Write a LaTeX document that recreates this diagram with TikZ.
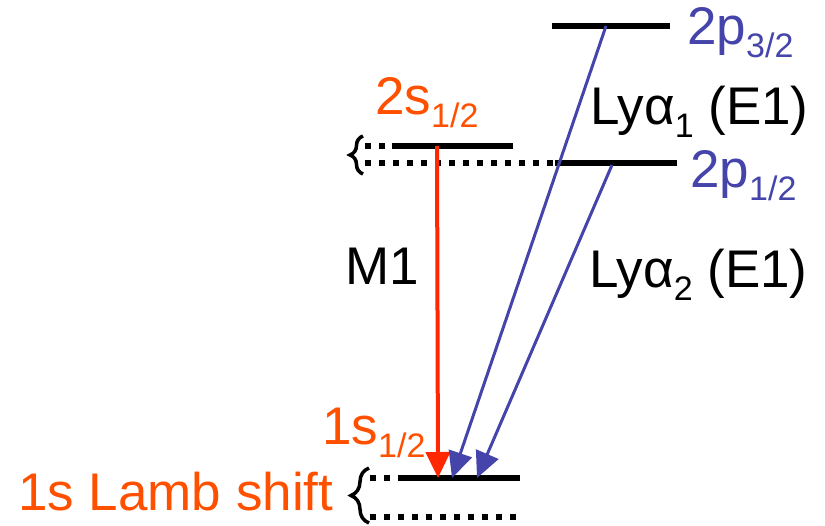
\documentclass[tikz,border=0pt]{standalone}
\usepackage{fontspec}
\setmainfont{Liberation Sans}
\usetikzlibrary{arrows.meta,decorations.pathreplacing}

\definecolor{lblorange}{RGB}{255,80,0}
\definecolor{arrowred}{RGB}{255,40,0}
\definecolor{pblue}{RGB}{68,68,170}

\newcommand{\lvsub}[1]{\raisebox{-13pt}{\fontsize{34}{34}\selectfont #1}}

\begin{document}
\begin{tikzpicture}[
    x=1pt, y=-1pt,
    every node/.style={font=\fontsize{53}{64}\selectfont, inner sep=0pt, anchor=base west},
    level/.style={line width=6.5pt},
    sublevel/.style={line width=6.5pt, dash pattern=on 6pt off 8pt},
    brc/.style={line width=3.5pt, decorate},
    trans/.style={-{Triangle[length=26pt,width=24pt]}}
]
\useasboundingbox (0,0) rectangle (825,526);

% === Levels ===
\draw[level] (552,26) -- (670,26);                % 2p 3/2
\draw[level] (392,146) -- (513,146);              % 2s 1/2
\draw[sublevel] (365,146) -- (392,146);
\draw[sublevel] (365,163) -- (555,163);
\draw[level] (555,163) -- (677,163);              % 2p 1/2
\draw[level] (398,478) -- (520,478);              % 1s 1/2
\draw[sublevel] (370,478) -- (398,478);
\draw[sublevel] (370,517) -- (522,517);

% Braces
\draw[brc, decoration={brace, amplitude=13pt}] (363,174) -- (363,136);
\draw[brc, decoration={brace, amplitude=18pt}] (369,523) -- (369,468);

% === Transition end points ===
\coordinate (s2) at (437,146);
\coordinate (s1a) at (438,478);
\coordinate (p3) at (606,26);
\coordinate (s1b) at (452,478);
\coordinate (p1) at (612,165);
\coordinate (s1c) at (477,478);

% === Transitions ===
\draw[trans, arrowred, line width=4pt] (s2) -- (s1a);
\draw[trans, pblue, line width=3pt] (p3) -- (s1b);
\draw[trans, pblue, line width=3pt] (p1) -- (s1c);

% === Labels ===
\node[text=pblue] (lp3) at (687,45) {2p\lvsub{3/2}};
\node[text=pblue] (lp1) at (690,188) {2p\lvsub{1/2}};
\node[text=lblorange] (ls2) at (375,115) {2s\lvsub{1/2}};
\node[text=lblorange] (ls1) at (322,445) {1s\lvsub{1/2}};
\node[text=lblorange] (llamb) at (18,510) {1s Lamb shift};
\node (lm1) at (345,285) {M1};
\node (lya1) at (590,125) {Lyα\lvsub{1} (E1)};
\node (lya2) at (589,288) {Lyα\lvsub{2} (E1)};

\end{tikzpicture}
\end{document}
